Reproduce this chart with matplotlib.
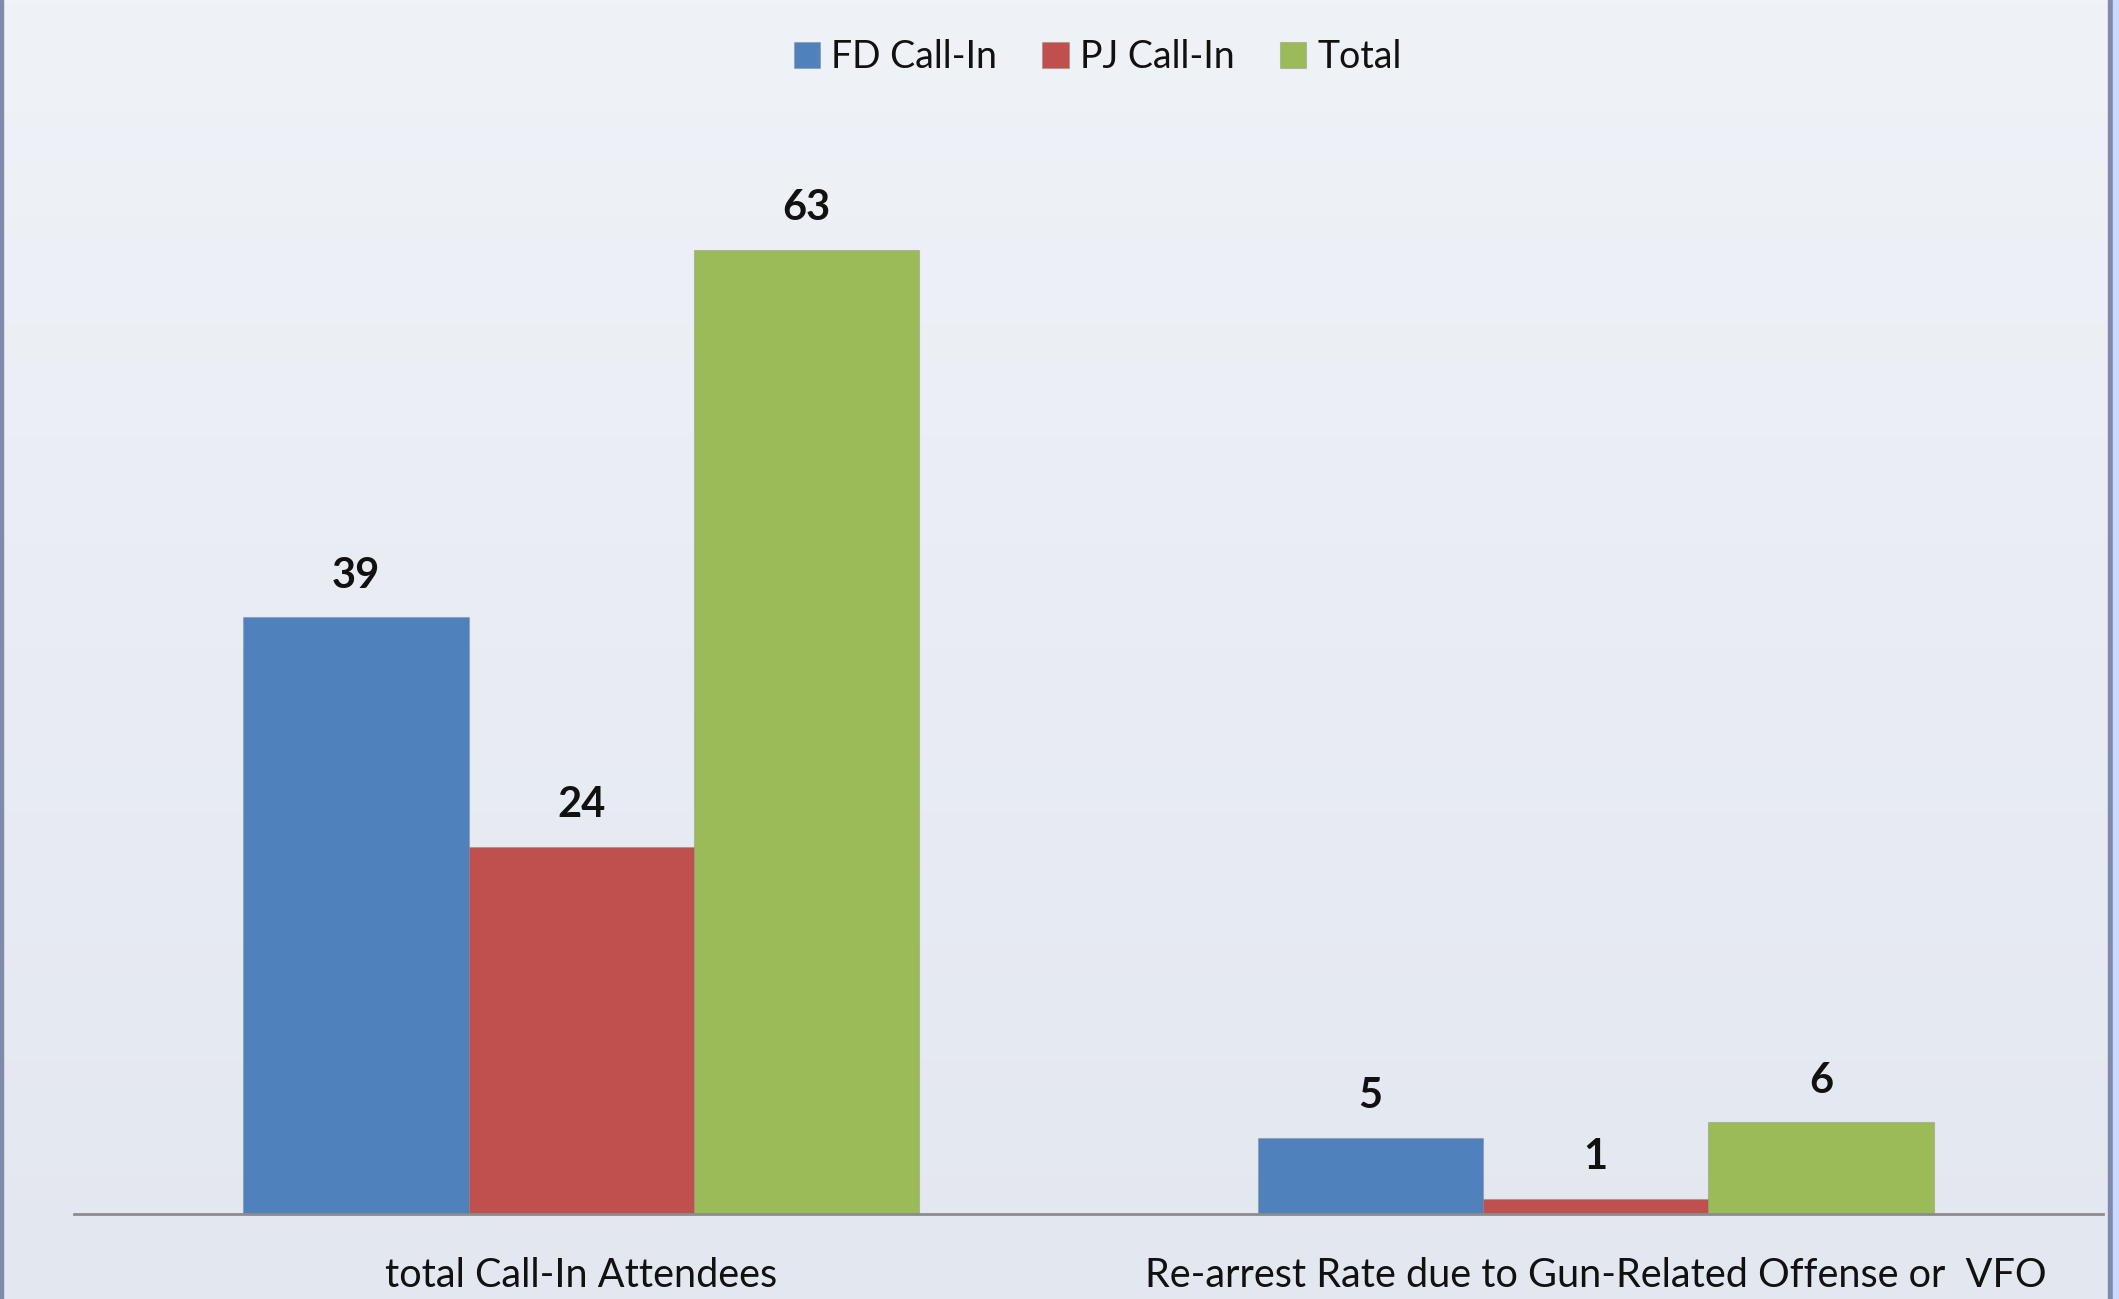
import numpy as np
import matplotlib
matplotlib.use("Agg")
import matplotlib.pyplot as plt
from matplotlib.patches import Rectangle

categories = ["total Call-In Attendees", "Re-arrest Rate due to Gun-Related Offense or  VFO"]
series_names = ["FD Call-In", "PJ Call-In", "Total"]
fd_values = [39, 5]
pj_values = [24, 1]
total_values = [63, 6]
colors = ["#4F81BD", "#C0504D", "#9BBB59"]

plt.rcParams['font.family'] = ['Lato', 'DejaVu Sans']

W, H = 2119, 1299
fig = plt.figure(figsize=(W / 100, H / 100), dpi=100)

# background gradient
bg = fig.add_axes([0, 0, 1, 1], zorder=-10)
grad = np.linspace(0, 1, 256).reshape(-1, 1)
top = np.array([0xEF, 0xF2, 0xF7]) / 255
bot = np.array([0xE3, 0xE7, 0xEF]) / 255
img = top + (bot - top) * grad[..., None]
img = img.reshape(256, 1, 3)
bg.imshow(img, aspect='auto', extent=[0, 1, 0, 1], origin='upper')
bg.set_xlim(0, 1); bg.set_ylim(0, 1); bg.axis('off')
# borders
bg.add_patch(Rectangle((0, 0), 3 / W, 1, color="#7F8BAD", transform=bg.transAxes))
bg.add_patch(Rectangle((2108 / W, 0), 5 / W, 1, color="#7F8BAD", transform=bg.transAxes))
bg.add_patch(Rectangle((2113 / W, 0), 6 / W, 1, color="#CCD9FF", transform=bg.transAxes))

ax_left, ax_right = 74 / W, 2103 / W
ax_bottom = 1 - 1214 / H
ax_top = 1 - 143 / H
ax = fig.add_axes([ax_left, ax_bottom, ax_right - ax_left, ax_top - ax_bottom])
ax.set_facecolor('none')

x = np.arange(len(categories))
width = 0.222
all_vals = [fd_values, pj_values, total_values]
for i, (name, vals, c) in enumerate(zip(series_names, all_vals, colors)):
    bars = ax.bar(x + (i - 1) * width, vals, width, color=c, label=name,
                  edgecolor=(0.5, 0.5, 0.5, 0.35), linewidth=0.8, zorder=2)
    for b, v in zip(bars, vals):
        ax.annotate(str(v), (b.get_x() + b.get_width() / 2, b.get_height()),
                    xytext=(0, 30), textcoords='offset points', ha='center',
                    va='center', fontsize=30, fontweight='bold', color='#111111')

ax.set_xlim(-0.5, 1.5)
ax.set_ylim(0, 70)
ax.set_yticks([])
ax.set_xticks(x)
ax.set_xticklabels(categories, fontsize=28.5, color='#111111')
ax.tick_params(axis='x', length=0, pad=31)
for s in ['top', 'right', 'left']:
    ax.spines[s].set_visible(False)
ax.spines['bottom'].set_color('#8C8C8C')
ax.spines['bottom'].set_linewidth(2)
ax.spines['bottom'].set_zorder(3)

leg = fig.legend(loc='center', bbox_to_anchor=(0.518, 1 - 57 / H), ncol=3,
                 frameon=False, fontsize=27, handlelength=0.7, handleheight=0.7,
                 handletextpad=0.3, columnspacing=1.2, labelcolor='#111111')

fig.savefig("out.png", dpi=100)
